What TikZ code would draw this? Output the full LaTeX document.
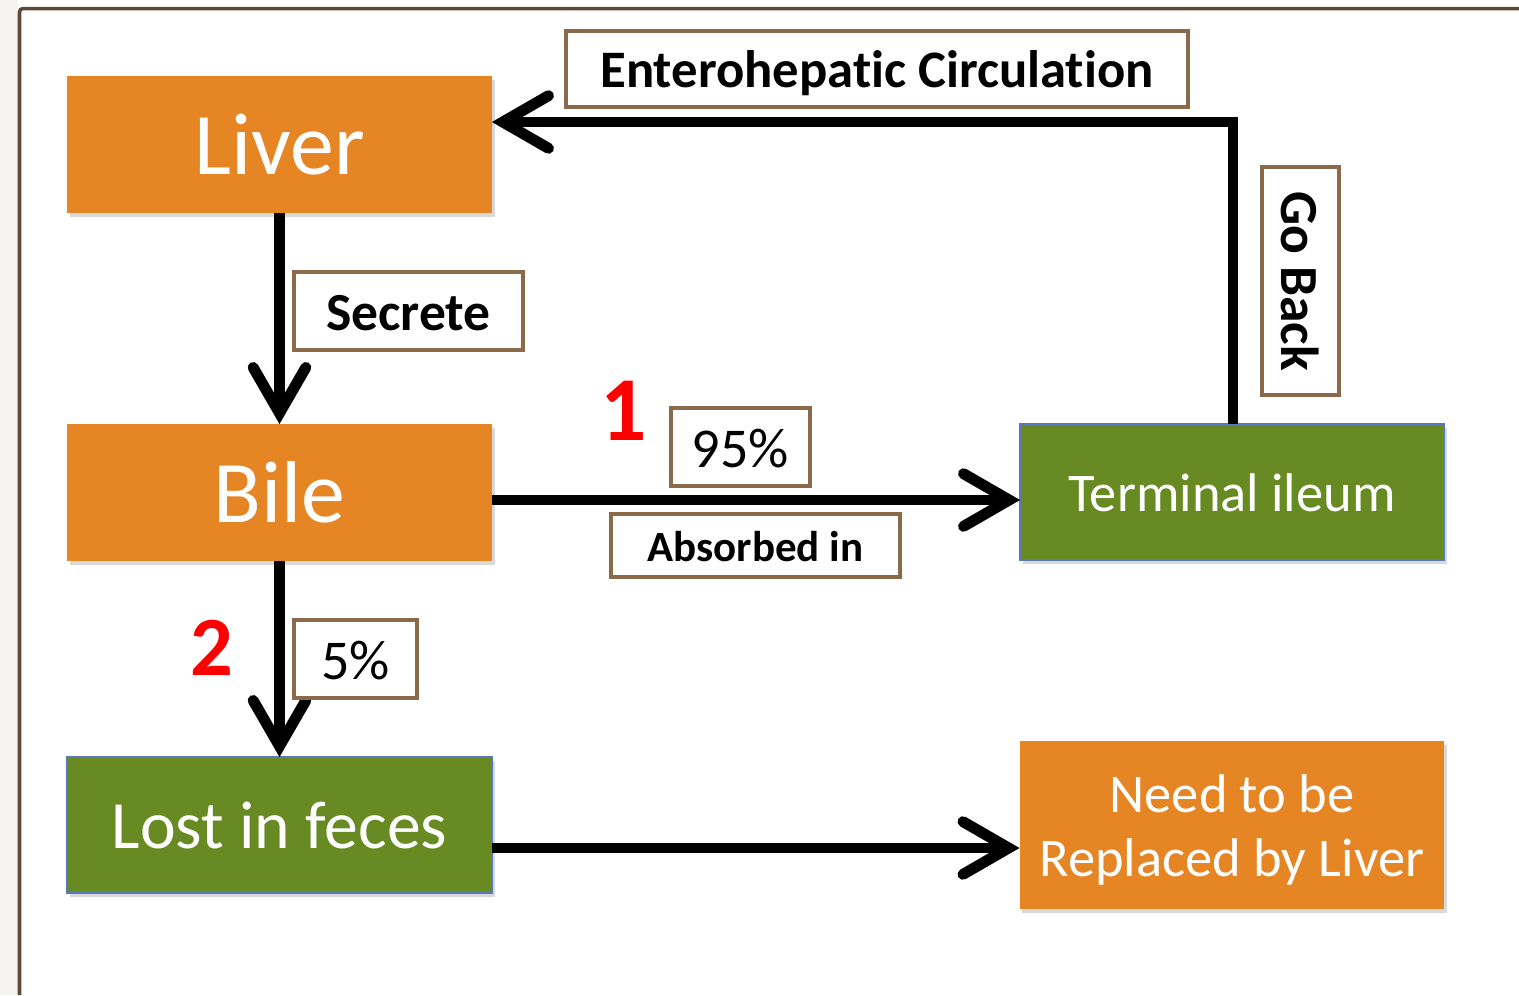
\documentclass[tikz,border=0pt]{standalone}
\usepackage{fontspec}
\setmainfont{Carlito}[Ligatures={NoCommon,NoContextual}]
\usetikzlibrary{arrows.meta,shadows}
\definecolor{orng}{HTML}{E68524}
\definecolor{grn}{HTML}{688A22}
\definecolor{grnb}{HTML}{5A78C0}
\definecolor{lblb}{HTML}{8A6A4A}
\definecolor{frm}{HTML}{5E4A34}
\definecolor{strip}{HTML}{F4F3F0}
\tikzset{
  box/.style={rectangle, inner sep=0pt, outer sep=0pt, text=white, align=center,
    drop shadow={opacity=0.3, shadow xshift=1.5pt, shadow yshift=-2pt}},
  obox/.style={box, fill=orng},
  gbox/.style={box, fill=grn, draw=grnb, line width=1pt},
  lbl/.style={rectangle, draw=lblb, line width=2pt, fill=white, inner sep=0pt, outer sep=0pt, text=black, align=center},
  arr/.style={line width=6.2pt, -{Straight Barb[line cap=round, line join=miter, length=26pt, width=30pt]}},
  seg/.style={line width=6.2pt},
  num/.style={text=red, font=\bfseries\fontsize{52}{60}\selectfont, inner sep=0pt}
}
\begin{document}
\begin{tikzpicture}[x=0.02cm, y=-0.02cm]
\useasboundingbox (0,0) rectangle (1519,995);
\fill[strip] (0,0) rectangle (18,995);
\draw[frm, line width=2pt, rounded corners=2pt] (19.5,995) -- (19.5,8.5) -- (1519,8.5);

\node[obox, minimum width=8.5cm, minimum height=2.74cm, text height=40pt, text depth=5.6pt, font=\fontsize{50}{60}\selectfont] (liver) at (279.5,144.5) {Liver};
\node[obox, minimum width=8.5cm, minimum height=2.74cm, text height=40pt, text depth=5.6pt, font=\fontsize{50}{60}\selectfont] (bile) at (279.5,492.5) {Bile};
\node[gbox, minimum width=8.5cm, minimum height=2.72cm, text height=30.8pt, text depth=3.8pt, font=\fontsize{38.5}{46}\selectfont] (lost) at (279.5,825) {Lost in feces};
\node[gbox, minimum width=8.48cm, minimum height=2.72cm, text height=24.8pt, text depth=2.6pt, font=\fontsize{31}{37}\selectfont] (ileum) at (1232,492) {Terminal ileum};
\node[obox, minimum width=8.5cm, minimum height=3.36cm, font=\fontsize{31}{36.5}\selectfont] (need) at (1232,825) {};
\node[text=white, align=center, inner sep=0pt, font=\fontsize{31}{36.5}\selectfont] (needtxt) at (1232,830) {Need to be\\Replaced by Liver};

\draw[arr] (liver.south) -- (bile.north);
\draw[arr] (bile.south) -- (lost.north);
\draw[arr] (bile.east |- 0,500) -- (ileum.west |- 0,500);
\draw[arr] (lost.east |- 0,848) -- (need.west |- 0,848);
\coordinate (corner) at (1233,122);
\draw[seg] (ileum.north -| corner) -- ([yshift=-3.1pt]corner);
\draw[arr] ([xshift=3.1pt]corner) -- (liver.east |- corner);

\node[lbl, minimum width=12.44cm, minimum height=1.52cm, text height=24pt, text depth=2.5pt, font=\bfseries\fontsize{30}{36}\selectfont] (entero) at (877,69) {Enterohepatic Circulation};
\node[lbl, minimum width=4.58cm, minimum height=1.56cm, text height=24.4pt, text depth=2.56pt, font=\bfseries\fontsize{30.5}{36}\selectfont] (secrete) at (408.5,311) {Secrete};
\node[lbl, rotate=-90, minimum width=4.56cm, minimum height=1.54cm, text height=24.4pt, text depth=2.56pt, font=\bfseries\fontsize{30.5}{36}\selectfont] (goback) at (1300.5,281) {Go Back};
\node[lbl, minimum width=2.78cm, minimum height=1.56cm, text height=25.6pt, text depth=2.8pt, font=\fontsize{32}{36}\selectfont] (p95) at (740.5,447) {95\%};
\node[lbl, minimum width=5.78cm, minimum height=1.26cm, text height=19.6pt, text depth=1.6pt, font=\bfseries\fontsize{24.5}{30}\selectfont] (absorbed) at (755.5,545.5) {Absorbed in};
\node[lbl, minimum width=2.46cm, minimum height=1.56cm, text height=25.6pt, text depth=2.8pt, font=\fontsize{32}{36}\selectfont] (p5) at (355.5,659) {5\%};

\node[num, anchor=base] (n1) at (624,440) {1};
\node[num, anchor=base, font=\bfseries\fontsize{48}{56}\selectfont] (n2) at (212,675) {2};
\end{tikzpicture}
\end{document}
